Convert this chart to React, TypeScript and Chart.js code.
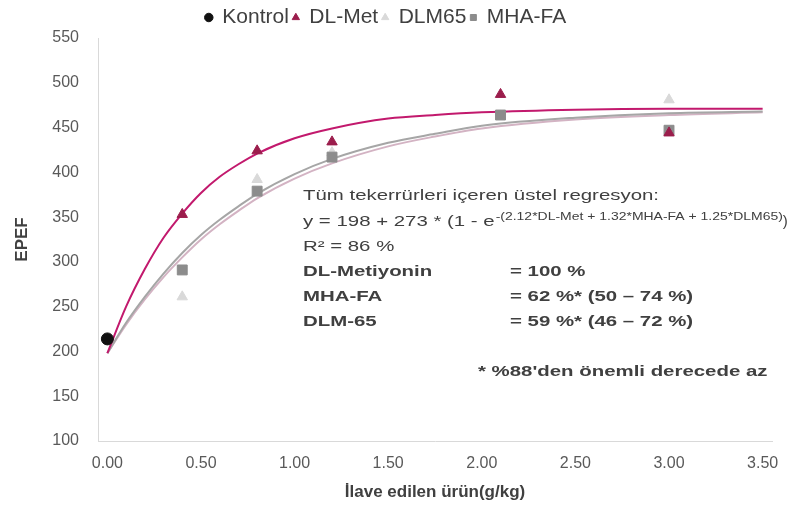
import React, { useEffect, useRef } from "react";
import { Chart, registerables } from "chart.js";

Chart.register(...registerables);

// ---- Data ----
const kontrolX = [0];
const kontrolY = [214];

const doses = [0.4, 0.8, 1.2, 2.1, 3.0];
const dlMetY = [353, 424, 434, 487, 444];
const dlm65Y = [261, 392, 422, 463, 481];
const mhaFaY = [291, 379, 417, 464, 447];

// regression curves
const curveX = [0, 0.1, 0.2, 0.3, 0.4, 0.5, 0.6, 0.7, 0.8, 1.0, 1.2, 1.5, 1.75, 2.0, 2.5, 3.0, 3.5];
const dlMetCurve = [198, 250, 292, 327, 354, 377, 395, 409, 421, 438, 449, 460, 464, 467, 470, 471, 471];
const mhaFaCurve = [198, 232, 261, 287, 310, 330, 347, 362, 376, 398, 415, 433, 443, 452, 461, 466, 468];
const dlm65Curve = [198, 230, 258, 283, 305, 325, 342, 357, 371, 393, 410, 429, 440, 449, 459, 464, 467];

const xTicks = [0, 0.5, 1, 1.5, 2, 2.5, 3, 3.5];

const legendLabels = ["Kontrol", "DL-Met", "DLM65", "MHA-FA"];

const annotationLines = [
  "Tüm tekerrürleri içeren üstel regresyon:",
  "y = 198 + 273 * (1 - e",
  "R² = 86 %",
];
const effRows = [
  ["DL-Metiyonin", "= 100 %"],
  ["MHA-FA", "= 62 %* (50 – 74 %)"],
  ["DLM-65", "= 59 %* (46 – 72 %)"],
];
const expText = "-(2.12*DL-Met + 1.32*MHA-FA + 1.25*DLM65)";
const footNote = "* %88'den önemli derecede az";

const pts = (xs: number[], ys: number[]) => xs.map((x, i) => ({ x, y: ys[i] }));

const FONT = "'Liberation Sans', Arial, sans-serif";

const annotationPlugin = {
  id: "annot",
  afterDraw(chart: any) {
    const ctx = chart.ctx as CanvasRenderingContext2D;
    ctx.save();
    ctx.fillStyle = "#404040";
    ctx.textBaseline = "middle";
    ctx.textAlign = "left";
    const sx = 1.36;
    const draw = (t: string, x: number, y: number, font: string, s = sx) => {
      ctx.save();
      ctx.font = font;
      ctx.translate(x, y);
      ctx.scale(s, 1);
      ctx.fillText(t, 0, 0);
      const w = ctx.measureText(t).width * s;
      ctx.restore();
      return w;
    };
    const norm = `15px ${FONT}`;
    const bold = `bold 15px ${FONT}`;
    draw(annotationLines[0], 303, 196, norm);
    const w = draw(annotationLines[1], 303, 222, norm);
    const we = draw(expText, 303 + w + 1, 217, `10.5px ${FONT}`, 1.33);
    draw(")", 303 + w + 1 + we, 222, norm, 1.0);
    draw(annotationLines[2], 303, 247, norm);
    effRows.forEach((r, i) => {
      draw(r[0], 303, 272 + i * 25, bold);
      draw(r[1], 510, 272 + i * 25, bold);
    });
    draw(footNote, 478, 372, bold);
    ctx.restore();
  },
};

export default function App() {
  const ref = useRef<HTMLCanvasElement>(null);
  useEffect(() => {
    if (!ref.current) return;
    const chart = new Chart(ref.current, {
      type: "scatter",
      data: {
        datasets: [
          {
            label: legendLabels[0],
            data: pts(kontrolX, kontrolY),
            pointStyle: "circle",
            pointRadius: 6,
            backgroundColor: "#111111",
            borderColor: "#111111",
            order: 0,
          },
          {
            label: legendLabels[1],
            data: pts(doses, dlMetY),
            pointStyle: "triangle",
            pointRadius: 6,
            backgroundColor: "#9b1d4c",
            borderColor: "#9b1d4c",
            order: 0,
          },
          {
            label: legendLabels[2],
            data: pts(doses, dlm65Y),
            pointStyle: "triangle",
            pointRadius: 6,
            backgroundColor: "#d9d9d9",
            borderColor: "#d9d9d9",
            order: 1,
          },
          {
            label: legendLabels[3],
            data: pts(doses, mhaFaY),
            pointStyle: "rect",
            pointRadius: 7,
            backgroundColor: "#8c8c8c",
            borderColor: "#8c8c8c",
            order: 0,
          },
          {
            label: "curve-dlm65",
            data: pts(curveX, dlm65Curve),
            showLine: true,
            pointRadius: 0,
            borderColor: "#d3b3c3",
            borderWidth: 2,
            cubicInterpolationMode: "monotone",
            order: 10,
          },
          {
            label: "curve-mhafa",
            data: pts(curveX, mhaFaCurve),
            showLine: true,
            pointRadius: 0,
            borderColor: "#a6a6a6",
            borderWidth: 2,
            cubicInterpolationMode: "monotone",
            order: 9,
          },
          {
            label: "curve-dlmet",
            data: pts(curveX, dlMetCurve),
            showLine: true,
            pointRadius: 0,
            borderColor: "#c2196d",
            borderWidth: 2,
            cubicInterpolationMode: "monotone",
            order: 8,
          },
        ] as any,
      },
      options: {
        animation: false,
        responsive: false,
        devicePixelRatio: 1,
        layout: { padding: { top: 3, left: 0, right: 20, bottom: 0 } },
        plugins: {
          tooltip: { enabled: false },
          legend: {
            display: true,
            position: "top",
            labels: {
              filter: (item: any) => !String(item.text).startsWith("curve"),
              sort: (a: any, b: any) => a.datasetIndex - b.datasetIndex,
              usePointStyle: true,
              boxWidth: 6,
              boxHeight: 6,
              padding: 4,
              color: "#404040",
              font: { family: FONT, size: 21 },
            },
          },
        },
        scales: {
          x: {
            type: "linear",
            min: -0.05,
            max: 3.55,
            afterBuildTicks: (s: any) => {
              s.ticks = xTicks.map((v) => ({ value: v }));
            },
            afterFit: (s: any) => {
              s.height = 72;
            },
            grid: { display: false, drawTicks: false },
            border: { display: true, color: "#d9d9d9", width: 1 },
            ticks: {
              padding: 13,
              color: "#595959",
              font: { family: FONT, size: 16 },
              callback: (v: any) => Number(v).toFixed(2),
            },
            title: {
              display: true,
              text: "İlave edilen ürün(g/kg)",
              color: "#404040",
              font: { family: FONT, size: 17, weight: "bold" },
              padding: { top: 0, bottom: 10 },
            },
          },
          y: {
            type: "linear",
            min: 100,
            max: 550,
            afterFit: (s: any) => {
              s.width = 98;
            },
            grid: { display: false, drawTicks: false },
            border: { display: true, color: "#d9d9d9", width: 1 },
            ticks: {
              stepSize: 50,
              padding: 19,
              color: "#595959",
              font: { family: FONT, size: 16 },
            },
            title: {
              display: true,
              text: "EPEF",
              color: "#404040",
              font: { family: FONT, size: 17, weight: "bold" },
              padding: { top: 12, bottom: 0 },
            },
          },
        },
      },
      plugins: [annotationPlugin],
    });
    return () => chart.destroy();
  }, []);
  return (
    <div style={{ position: "absolute", left: 0, top: 0, width: 792, height: 513, background: "#fff" }}>
      <canvas ref={ref} width={792} height={513} />
    </div>
  );
}
